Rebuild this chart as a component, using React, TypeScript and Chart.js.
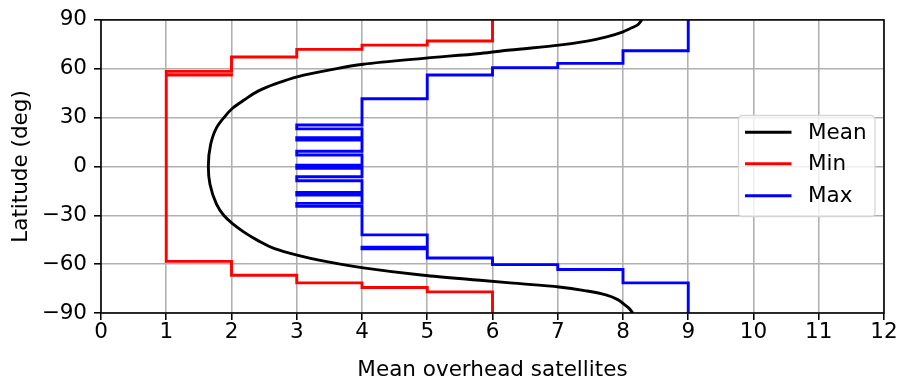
import { useEffect, useRef } from 'react';
import { Chart, registerables } from 'chart.js';

Chart.register(...registerables);

// Mean curve: latitude (deg) and mean overhead satellites
const meanLat = [90, 88.5, 86.8, 84.7, 82.7, 79.6, 77.0, 74.5, 71.5, 69.4, 66.4, 62.8, 59.3, 55.2, 50.5, 46.1, 41.0, 35.9, 29.8, 23.7, 13.5, 0, -10.9, -23.1, -30.0, -35.3, -40.0, -45.4, -50.5, -54.6, -57.7, -62.3, -66.8, -69.9, -71.5, -74.0, -76.5, -79.0, -82.0, -84.1, -87.0, -90];
const meanVal = [8.29, 8.26, 8.22, 8.11, 8.0, 7.75, 7.45, 7.02, 6.27, 5.81, 4.94, 4.02, 3.51, 3.02, 2.66, 2.4, 2.2, 2.02, 1.88, 1.77, 1.68, 1.645, 1.67, 1.77, 1.88, 2.02, 2.18, 2.4, 2.66, 3.02, 3.36, 4.02, 4.94, 5.81, 6.27, 7.02, 7.45, 7.75, 7.93, 8.0, 8.09, 8.15];

// Min: step function (latitude where the value starts, value)
const minLat = [90, 77.0, 74.5, 71.9, 67.2, 58.4, 56.4, 56.1, -58.3, -66.8, -71.5, -74.3, -77.0, -90];
const minVal = [6, 5, 4, 3, 2, 1, 2, 1, 2, 3, 4, 5, 6, 6];

// Max: step function
const maxLat = [90, 71.1, 63.3, 60.7, 56.2, 41.6, 25.5, 23.1, 17.6, 16.2, 9.3, 7.0, 0.7, -1.1, -6.3, -8.8, -16.0, -17.6, -22.7, -24.5, -42.0, -49.6, -50.6, -56.2, -60.3, -63.3, -71.5, -90];
const maxVal = [9, 8, 7, 6, 5, 4, 3, 4, 3, 4, 3, 4, 3, 4, 3, 4, 3, 4, 3, 4, 5, 4, 5, 6, 7, 8, 9, 9];

const seriesLabels = ['Mean', 'Min', 'Max'];
const seriesColors = ['#000000', '#ff0000', '#0000ff'];

const xMin = 0;
const xMax = 12;
const xStep = 1;
const yMin = -90;
const yMax = 90;
const yStep = 30;

const FONT = 'DejaVu Sans';
const FS = 21.5;
const LW = 2.9;
const GRID_W = 1.57;

export default function App() {
  const ref = useRef<HTMLCanvasElement>(null);

  useEffect(() => {
    const toPts = (lat: number[], val: number[]) => lat.map((l, i) => ({ x: val[i], y: l }));

    const framePlugin = {
      id: 'frameAndLegend',
      afterDraw(chart: any) {
        const ctx = chart.ctx as CanvasRenderingContext2D;
        const a = chart.chartArea;
        ctx.save();
        // spines
        ctx.strokeStyle = '#000';
        ctx.lineWidth = GRID_W;
        ctx.strokeRect(a.left, a.top, a.right - a.left, a.bottom - a.top);

        // legend box
        const bx = 738.5, by = 115.5, bw = 136.5, bh = 101, r = 4;
        ctx.beginPath();
        ctx.moveTo(bx + r, by);
        ctx.lineTo(bx + bw - r, by);
        ctx.arcTo(bx + bw, by, bx + bw, by + r, r);
        ctx.lineTo(bx + bw, by + bh - r);
        ctx.arcTo(bx + bw, by + bh, bx + bw - r, by + bh, r);
        ctx.lineTo(bx + r, by + bh);
        ctx.arcTo(bx, by + bh, bx, by + bh - r, r);
        ctx.lineTo(bx, by + r);
        ctx.arcTo(bx, by, bx + r, by, r);
        ctx.closePath();
        ctx.fillStyle = 'rgba(255,255,255,0.8)';
        ctx.fill();
        ctx.strokeStyle = '#d6d6d6';
        ctx.lineWidth = 1.3;
        ctx.stroke();

        const ys = [132.3, 163.8, 195.7];
        chart.data.datasets.forEach((ds: any, i: number) => {
          ctx.beginPath();
          ctx.strokeStyle = ds.borderColor;
          ctx.lineWidth = LW;
          ctx.moveTo(745, ys[i]);
          ctx.lineTo(791.5, ys[i]);
          ctx.stroke();
          ctx.fillStyle = '#000';
          ctx.font = `${FS}px "${FONT}"`;
          ctx.textBaseline = 'middle';
          ctx.textAlign = 'left';
          ctx.fillText(ds.label, 808, ys[i] + 1);
        });
        ctx.restore();
      },
    };

    const common = {
      showLine: true,
      pointRadius: 0,
      pointHoverRadius: 0,
      borderWidth: LW,
      fill: false,
      borderJoinStyle: 'miter' as const,
      borderCapStyle: 'butt' as const,
    };

    const chart = new Chart(ref.current as HTMLCanvasElement, {
      type: 'line',
      data: {
        datasets: [
          {
            ...common,
            label: seriesLabels[0],
            data: toPts(meanLat, meanVal),
            borderColor: seriesColors[0],
            backgroundColor: seriesColors[0],
            indexAxis: 'y',
            cubicInterpolationMode: 'monotone',
            order: 3,
            borderJoinStyle: 'round' as const,
          },
          { ...common, label: seriesLabels[1], data: toPts(minLat, minVal), borderColor: seriesColors[1], backgroundColor: seriesColors[1], stepped: 'after', order: 2 },
          { ...common, label: seriesLabels[2], data: toPts(maxLat, maxVal), borderColor: seriesColors[2], backgroundColor: seriesColors[2], stepped: 'after', order: 1 },
        ],
      } as any,
      options: {
        responsive: false,
        animation: false,
        events: [],
        layout: { padding: { left: 0, right: 18, top: 17, bottom: 0 } },
        plugins: {
          legend: { display: false },
          tooltip: { enabled: false },
        },
        scales: {
          x: {
            type: 'linear',
            min: xMin,
            max: xMax,
            afterFit: (s: any) => { s.height = 70; },
            ticks: {
              stepSize: xStep,
              color: '#000',
              padding: 0,
              font: { family: FONT, size: FS },
            },
            grid: {
              color: '#b0b0b0',
              lineWidth: GRID_W,
              tickColor: '#000',
              tickLength: 7,
              tickWidth: GRID_W,
            },
            border: { display: false },
            title: {
              display: true,
              text: 'Mean overhead satellites',
              color: '#000',
              font: { family: FONT, size: FS },
              padding: { top: 2, bottom: 0 },
            },
          },
          y: {
            type: 'linear',
            min: yMin,
            max: yMax,
            afterFit: (s: any) => { s.width = 101; },
            ticks: {
              stepSize: yStep,
              color: '#000',
              padding: 7,
              font: { family: FONT, size: FS },
              callback: (v: any) => (Number(v) < 0 ? '\u2212' + Math.abs(Number(v)) : String(v)),
            },
            grid: {
              color: '#b0b0b0',
              lineWidth: GRID_W,
              tickColor: '#000',
              tickLength: 7,
              tickWidth: GRID_W,
            },
            border: { display: false },
            title: {
              display: true,
              text: 'Latitude (deg)',
              color: '#000',
              font: { family: FONT, size: FS },
              padding: { top: 9, bottom: 0 },
            },
          },
        },
      } as any,
      plugins: [framePlugin],
    });
    return () => chart.destroy();
  }, []);

  return (
    <div style={{ position: 'fixed', left: 0, top: 0, width: 902, height: 383, background: '#fff' }}>
      <canvas ref={ref} width={902} height={383} style={{ display: 'block' }} />
    </div>
  );
}
